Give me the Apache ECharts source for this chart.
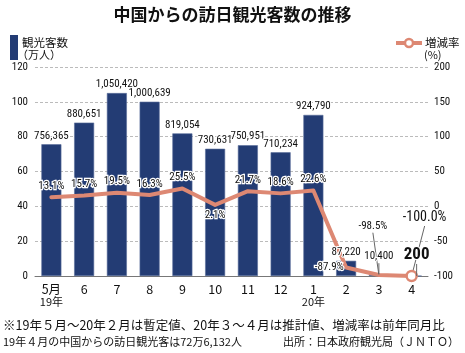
<!DOCTYPE html>
<html>
<head>
<meta charset="utf-8">
<script src="https://cdn.jsdelivr.net/npm/echarts@6/dist/echarts.min.js"></script>
<style>
  html, body { margin: 0; padding: 0; background: #fff; }
  #chart { width: 465px; height: 353px; }
</style>
</head>
<body>
<div id="chart"></div>
<script>
// 月（カテゴリ）と年の表示
const months = ['5月', '6', '7', '8', '9', '10', '11', '12', '1', '2', '3', '4'];
const yearMarks = ['19年', '', '', '', '', '', '', '', '20年', '', '', ''];
// 訪日観光客数（人）
const visitors = [756365, 880651, 1050420, 1000639, 819054, 730631, 750951, 710234, 924790, 87220, 10400, 200];
// 増減率（%）
const changeRate = [13.1, 15.7, 19.5, 16.3, 25.5, 2.1, 21.7, 18.6, 22.6, -87.9, -98.5, -100.0];
// 軸目盛
const leftAxis = { min: 0, max: 120, interval: 20 };
const rightAxis = { min: -100, max: 200, interval: 50 };

const NAVY = '#233c74';
const SALMON = '#dd8873';
const NUM = '"Roboto Condensed", "DejaVu Sans Condensed", sans-serif';
const JP = '"Noto Sans CJK JP", sans-serif';

const chart = echarts.init(document.getElementById('chart'), null, { renderer: 'canvas' });

const barValues = visitors.map((v) => v / 10000);

// 棒ラベルだけ線より手前に出すため、透明な棒を重ねてラベルを描く
const barLabelData = barValues.map((v, i) => {
  const item = { value: v };
  if (i === 10) item.labelLine = { show: true };
  if (i === 11) {
    item.label = { fontSize: 17, fontWeight: 'bold' };
    item.labelLine = { show: true };
  }
  return item;
});

const lineData = changeRate.map((v, i) => {
  const item = { value: v };
  if (i === 5) item.label = { position: 'bottom', distance: 4 };
  if (i === 9) item.label = { position: 'left', distance: 2 };
  if (i === 10) item.labelLine = { show: true };
  if (i === 11) {
    item.symbolSize = 10;
    item.itemStyle = { color: '#fff', borderColor: SALMON, borderWidth: 2.5 };
    item.label = { fontSize: 14 };
    item.labelLine = { show: true };
  }
  return item;
});

const option = {
  animation: false,
  backgroundColor: '#fff',
  grid: { left: 35, right: 37, top: 67, bottom: 77 },
  xAxis: {
    type: 'category',
    data: months.map((m, i) => yearMarks[i] ? m + '\n' + yearMarks[i] : m),
    axisLine: { lineStyle: { color: '#777', width: 1 } },
    axisTick: { show: false },
    axisLabel: {
      interval: 0,
      margin: 7,
      formatter: (val) => {
        const parts = val.split('\n');
        return parts.length > 1 ? '{m|' + parts[0] + '}\n{y|' + parts[1] + '}' : '{m|' + val + '}';
      },
      rich: {
        m: { fontFamily: JP, fontSize: 12.5, color: '#111', lineHeight: 13 },
        y: { fontFamily: JP, fontSize: 11, color: '#111', lineHeight: 12 }
      }
    }
  },
  yAxis: [
    {
      type: 'value', min: leftAxis.min, max: leftAxis.max, interval: leftAxis.interval,
      axisLine: { show: false }, axisTick: { show: false },
      axisLabel: { fontFamily: NUM, fontSize: 11, color: '#111', margin: 7 },
      splitLine: { lineStyle: { color: '#bbb', type: [3, 2], width: 1 } }
    },
    {
      type: 'value', min: rightAxis.min, max: rightAxis.max, interval: rightAxis.interval,
      axisLine: { show: false }, axisTick: { show: false },
      axisLabel: { fontFamily: NUM, fontSize: 11, color: '#111', margin: 6 },
      splitLine: { show: false }
    }
  ],
  series: [
    {
      type: 'bar',
      yAxisIndex: 0,
      barWidth: 20,
      data: barValues,
      itemStyle: { color: NAVY, borderColor: '#5a6f9a', borderWidth: 0.6 },
      z: 2
    },
    {
      type: 'line',
      yAxisIndex: 1,
      data: lineData,
      symbol: 'circle',
      symbolSize: 1,
      itemStyle: { color: SALMON },
      lineStyle: { color: SALMON, width: 4, cap: 'round', join: 'round' },
      label: {
        show: true,
        position: 'top',
        distance: 5,
        fontFamily: NUM,
        fontSize: 11,
        color: '#111',
        textBorderColor: '#fff',
        textBorderWidth: 2.5,
        formatter: (p) => changeRate[p.dataIndex].toFixed(1) + '%'
      },
      labelLine: { show: false, lineStyle: { color: '#666', width: 1 } },
      labelLayout: (p) => {
        if (p.dataIndex === 10) return { dx: -6, dy: -38 };
        if (p.dataIndex === 11) return { dx: 13, dy: -40 };
        return {};
      },
      z: 5
    },
    {
      type: 'bar',
      yAxisIndex: 0,
      barWidth: 20,
      barGap: '-100%',
      data: barLabelData,
      itemStyle: { color: 'rgba(0,0,0,0)' },
      label: {
        show: true,
        position: 'top',
        distance: 3,
        fontFamily: NUM,
        fontSize: 11,
        color: '#111',
        textBorderColor: '#fff',
        textBorderWidth: 2,
        formatter: (p) => visitors[p.dataIndex].toLocaleString('en-US')
      },
      labelLine: { show: false, lineStyle: { color: '#666', width: 1 } },
      labelLayout: (p) => {
        if (p.dataIndex === 10) return { dy: -9 };
        if (p.dataIndex === 11) return { dx: 5, dy: -10 };
        return {};
      },
      z: 8
    }
  ],
  graphic: [
    {
      type: 'text', left: 'center', top: 6,
      style: { text: '中国からの訪日観光客数の推移', font: 'bold 17px "Noto Sans CJK JP", sans-serif', fill: '#111' }
    },
    { type: 'rect', shape: { x: 10, y: 35, width: 8, height: 25 }, style: { fill: NAVY } },
    { type: 'text', x: 22, y: 37, style: { text: '観光客数', font: '11.5px "Noto Sans CJK JP", sans-serif', fill: '#111' } },
    { type: 'text', x: 17, y: 49, style: { text: '（万人）', font: '11px "Noto Sans CJK JP", sans-serif', fill: '#111' } },
    { type: 'line', shape: { x1: 396, y1: 43, x2: 422, y2: 43 }, style: { stroke: SALMON, lineWidth: 4 } },
    { type: 'circle', shape: { cx: 409, cy: 43, r: 4 }, style: { fill: '#fff', stroke: SALMON, lineWidth: 2.5 } },
    { type: 'text', x: 425, y: 37, style: { text: '増減率', font: '11.5px "Noto Sans CJK JP", sans-serif', fill: '#111' } },
    { type: 'text', x: 424, y: 49, style: { text: '(%)', font: '11px "Noto Sans CJK JP", sans-serif', fill: '#111' } },
    { type: 'text', x: 3, y: 319, style: { text: '※19年５月～20年２月は暫定値、20年３～４月は推計値、増減率は前年同月比', font: '12.5px "Noto Sans CJK JP", sans-serif', fill: '#111' } },
    { type: 'text', x: 3, y: 336, style: { text: '19年４月の中国からの訪日観光客は72万6,132人', font: '11px "Noto Sans CJK JP", sans-serif', fill: '#111' } },
    { type: 'text', x: 283, y: 336, style: { text: '出所：日本政府観光局（ＪＮＴＯ）', font: '11px "Noto Sans CJK JP", sans-serif', fill: '#111' } }
  ]
};

chart.setOption(option);
</script>
</body>
</html>
